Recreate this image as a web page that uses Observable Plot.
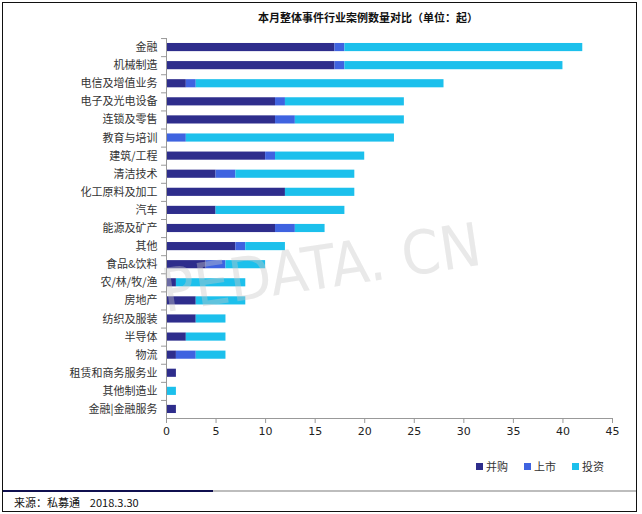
<!DOCTYPE html>
<html>
<head>
<meta charset="utf-8">
<script src="https://cdn.jsdelivr.net/npm/d3@7"></script>
<script src="https://cdn.jsdelivr.net/npm/@observablehq/plot@0.6"></script>
<style>
  html, body { margin: 0; padding: 0; background: #fff; }
  #page { position: relative; width: 642px; height: 514px; overflow: hidden; background: #fff;
          font-family: "Noto Sans CJK SC", "Noto Sans", sans-serif; }
  #border { position: absolute; left: 2px; top: 2px; width: 633px; height: 508px; border: 1.5px solid #111; }
  #title { position: absolute; left: 0; width: 736px; top: 9px; text-align: center; font-size: 11px; font-weight: bold; color: #111; }
  #chart { position: absolute; left: 0; top: 0; }
  #legend { position: absolute; top: 458px; left: 476px; font-size: 11px; color: #333; display: flex; gap: 16px; }
  #legend span.sw { display: inline-block; width: 7px; height: 7px; margin-right: 3px; vertical-align: 1px; }
  #rule1 { position: absolute; left: 3px; top: 490px; width: 210px; height: 2px; background: #0f0f4f; }
  #rule2 { position: absolute; left: 213px; top: 490px; width: 423px; height: 2px; background: #bdbdbd; }
  #source { position: absolute; left: 14px; top: 494px; font-size: 11px; color: #111; white-space: pre; }
  #wm { position: absolute; left: 0; top: 0; pointer-events: none; }
</style>
</head>
<body>
<div id="page">
  <div id="border"></div>
  <div id="chart"></div>
  <div id="title">本月整体事件行业案例数量对比（单位：起）</div>
  <svg id="wm" width="642" height="514">
    <text x="165" y="312" transform="rotate(-8.5,165,312)" font-size="60" textLength="322" lengthAdjust="spacingAndGlyphs"
          font-family="'Liberation Sans Narrow', 'DejaVu Sans Condensed', sans-serif" fill="rgb(200,200,200)" fill-opacity="0.4">PEDATA. CN</text>
  </svg>
  <div id="legend"></div>
  <div id="rule1"></div><div id="rule2"></div>
  <div id="source">来源：私募通    2018.3.30</div>
</div>
<script>
const categories = ["金融","机械制造","电信及增值业务","电子及光电设备","连锁及零售","教育与培训","建筑/工程","清洁技术","化工原料及加工","汽车","能源及矿产","其他","食品&饮料","农/林/牧/渔","房地产","纺织及服装","半导体","物流","租赁和商务服务业","其他制造业","金融|金融服务"];
const seriesNames = ["并购","上市","投资"];
const mergers     = [17,17, 2,11,11, 0,10, 5,12, 5,11, 7, 4, 1, 3, 3, 2, 1, 1, 0, 1];
const ipos        = [ 1, 1, 1, 1, 2, 2, 1, 2, 0, 0, 2, 1, 2, 0, 0, 0, 0, 2, 0, 0, 0];
const investments = [24,22,25,12,11,21, 9,12, 7,13, 3, 4, 4, 7, 5, 3, 4, 3, 0, 1, 0];
const xTicks = [0,5,10,15,20,25,30,35,40,45];
const colors = ["#2e2d8c","#3f63e0","#1cc0ec"];

const seriesValues = [mergers, ipos, investments];
const data = [];
seriesNames.forEach((s, si) => categories.forEach((c, i) => data.push({category: c, series: s, value: seriesValues[si][i]})));

const chart = Plot.plot({
  width: 642,
  height: 445,
  marginTop: 38,
  marginBottom: 27,
  marginLeft: 166,
  marginRight: 30,
  style: {fontFamily: "'Noto Sans CJK SC', sans-serif", background: "transparent", color: "#333"},
  x: {domain: [0, 45], ticks: xTicks, label: null},
  y: {domain: categories, paddingInner: 0.55, paddingOuter: 0.275, round: false, label: null},
  color: {domain: seriesNames, range: colors},
  marks: [
    Plot.barX(data, {x: "value", y: "category", fill: "series"}),
    Plot.ruleX([0], {stroke: "#999", strokeWidth: 1}),
    Plot.frame({anchor: "bottom", stroke: "#999"}),
    Plot.ruleY(categories, {y: d => d, x1: -0.5, x2: 0, dy: -9, stroke: "#999"}),
    Plot.axisX({ticks: xTicks, tickSize: 5, tickPadding: 4, stroke: "#999", fontSize: 11, fill: "#222",
                fontFamily: "'DejaVu Sans', sans-serif", label: null}),
    Plot.axisY({tickSize: 0, tickPadding: 9, fontSize: 11, fill: "#333", label: null})
  ]
});
document.getElementById("chart").appendChild(chart);

const legend = document.getElementById("legend");
seriesNames.forEach((s, i) => {
  const item = document.createElement("div");
  item.innerHTML = `<span class="sw" style="background:${colors[i]}"></span>${s}`;
  legend.appendChild(item);
});
</script>
</body>
</html>
